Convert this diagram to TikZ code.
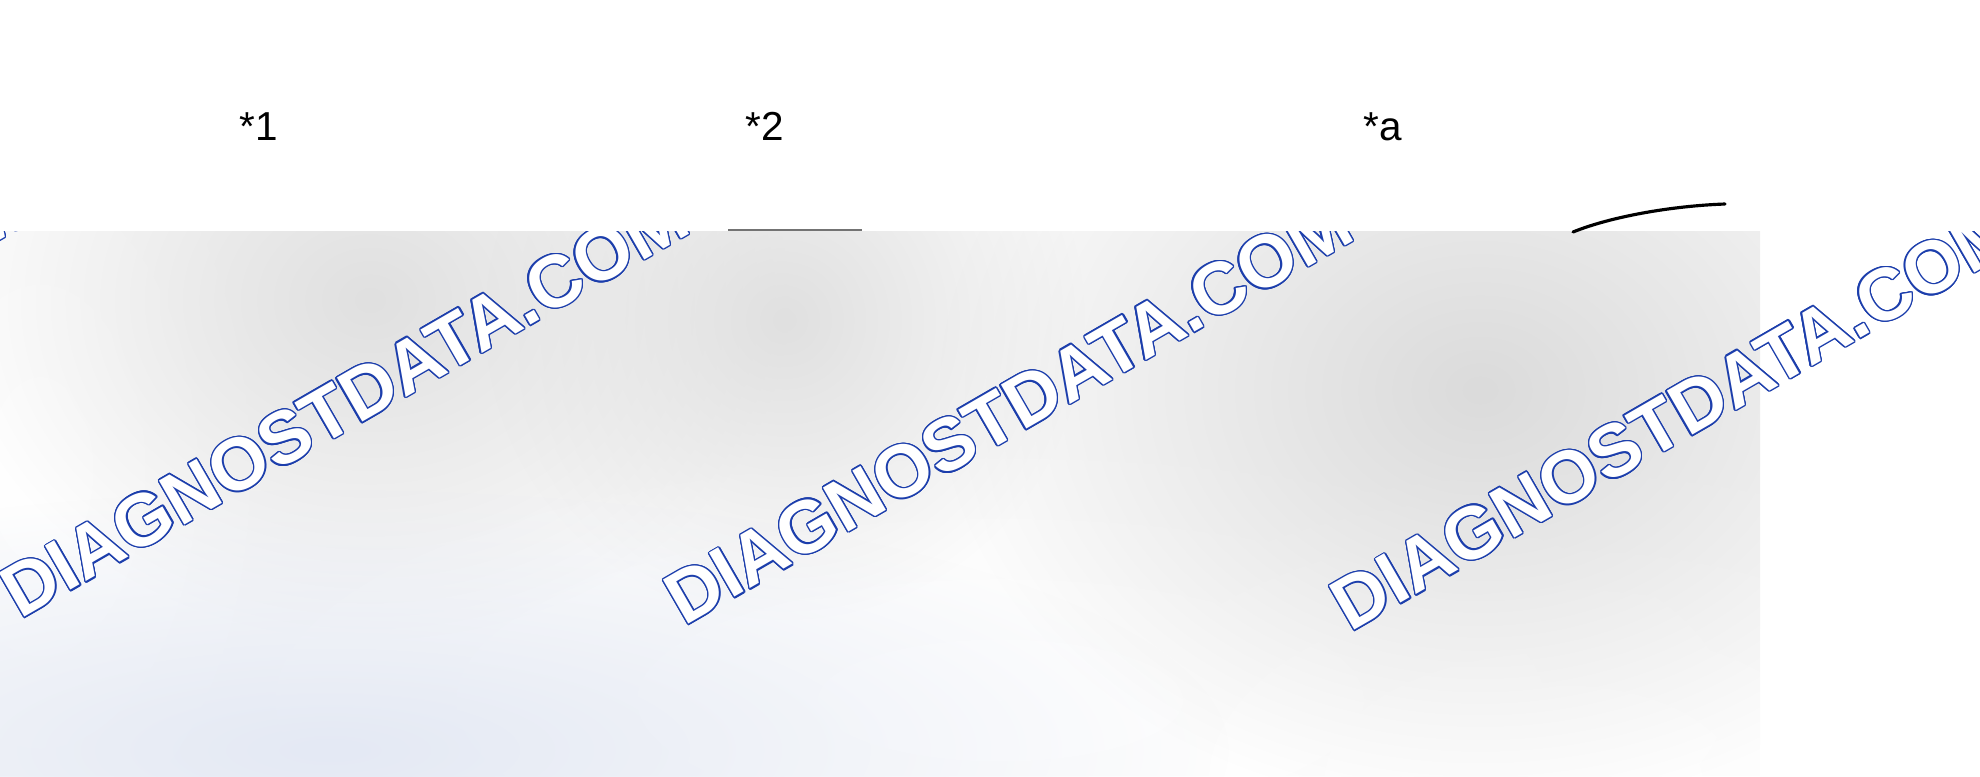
\documentclass[tikz,border=0pt]{standalone}
\usepackage{fontspec}
\setmainfont{Liberation Sans}
\usetikzlibrary{fadings}
\definecolor{wmblue}{RGB}{28,62,172}
\definecolor{bluetint}{RGB}{228,233,244}
\tikzfading[name=blobfade, inner color=transparent!0, outer color=transparent!100]
\tikzset{
  lbl/.style={font=\fontsize{11.5}{13}\selectfont, inner sep=0pt, anchor=base, text=black},
  wmtext/.style={font=\fontsize{21}{24}\selectfont\bfseries, inner sep=0pt, anchor=base west, rotate=30},
  blob/.style={path fading=blobfade},
  edgeline/.style={black!55, line width=0.6pt},
  arcline/.style={black, line width=0.9pt, line cap=round}
}
\begin{document}
\begin{tikzpicture}[x=0.01cm, y=-0.01cm]
\useasboundingbox (0,0) rectangle (1980,776);
\fill[white] (0,0) rectangle (1980,776);
% blurred grey lower band
\begin{scope}
  \clip (0,231) rectangle (1760,776);
  \fill[black!2] (0,231) rectangle (1760,776);
  \fill[white, blob] (40,470) ellipse [x radius=260, y radius=460];
  \fill[white, blob] (1000,700) ellipse [x radius=900, y radius=300];
  \fill[white, blob] (1560,780) ellipse [x radius=700, y radius=380];
  \fill[black!12, blob] (370,300) ellipse [x radius=420, y radius=340];
  \fill[black!12, blob] (785,320) ellipse [x radius=300, y radius=300];
  \fill[black!14, blob] (1480,390) ellipse [x radius=540, y radius=420];
  \fill[bluetint, blob] (330,750) ellipse [x radius=900, y radius=260];
\end{scope}
% watermark
\begin{scope}
  \clip (0,231) rectangle (1980,776);
  \foreach \i/\px/\py in {0/-645/612, 1/20/620, 2/684/627, 3/1350/633} {
    \foreach \k in {0,...,15} {
      \node[wmtext, text=wmblue] (wm\i-\k) at ([shift={({\k*22.5}:1.4)}]\px,\py) {DIAGNOSTDATA.COM};
    }
    \node[wmtext, text=white] (wm\i) at (\px,\py) {DIAGNOSTDATA.COM};
  }
\end{scope}
% labels
\node[lbl] (l1) at (259,141) {*1};
\node[lbl] (l2) at (765,140) {*2};
\node[lbl] (la) at (1383,140) {*a};
% visible edges of the parts
\draw[edgeline] (728,230) -- (862,230);
\draw[arcline] (1573,232) .. controls (1610,217) and (1670,206) .. (1725,204);
\end{tikzpicture}
\end{document}
